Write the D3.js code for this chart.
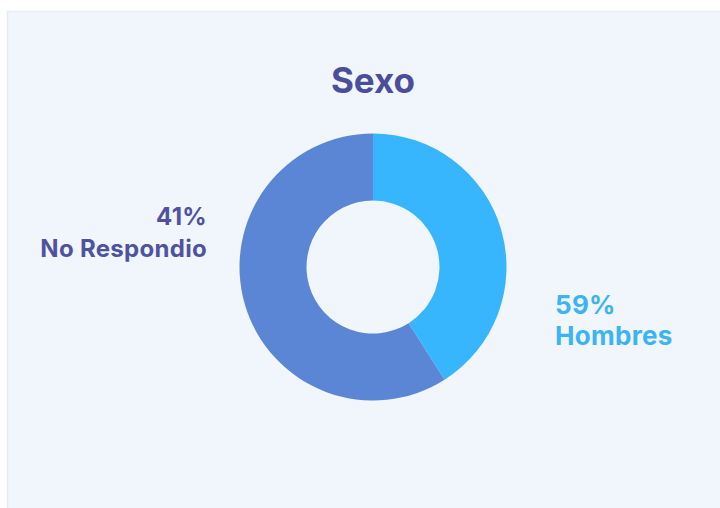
<!DOCTYPE html>
<html>
<head>
<meta charset="utf-8">
<script src="https://cdn.jsdelivr.net/npm/d3@7/dist/d3.min.js"></script>
<style>
  html, body { margin: 0; padding: 0; background: #ffffff; }
  svg { display: block; }
  text { font-family: Inter, "Noto Sans", sans-serif; font-weight: 700; }
</style>
</head>
<body>
<div id="chart"></div>
<script>
// Data
const title = "Sexo";
const categories = ["Hombres", "No Respondio"];
const sliceValues = [41, 59];          // slice sizes as drawn
const labelPercents = ["59%", "41%"];  // label texts as printed
const colors = ["#38b6fd", "#5b86d6"];
const labelColors = ["#3cb4f4", "#4f539f"];

const W = 720, H = 508;
const svg = d3.select("#chart").append("svg").attr("width", W).attr("height", H);

// panel
svg.append("rect").attr("x", 7).attr("y", 11).attr("width", W - 7).attr("height", H - 11)
  .attr("fill", "#f1f5fc");
svg.append("line").attr("x1", 7.5).attr("x2", 7.5).attr("y1", 11).attr("y2", H)
  .attr("stroke", "#e6e9ef").attr("stroke-width", 1.5);
svg.append("line").attr("x1", 7).attr("x2", W).attr("y1", 11.5).attr("y2", 11.5)
  .attr("stroke", "#eceef3").attr("stroke-width", 1.5);

const cx = 373, cy = 267, R = 133.5, r = 66.5;

svg.append("text").attr("x", cx).attr("y", 93).attr("text-anchor", "middle")
  .attr("font-size", 35).attr("fill", "#4b4f9b").text(title);

const pie = d3.pie().sort(null).value(d => d.v).startAngle(0).endAngle(2 * Math.PI);
const arcs = pie(categories.map((c, i) => ({ c, v: sliceValues[i], i })));
const arc = d3.arc().innerRadius(r).outerRadius(R);

const g = svg.append("g").attr("transform", `translate(${cx},${cy})`);
g.selectAll("path").data(arcs).join("path")
  .attr("d", arc).attr("fill", d => colors[d.data.i]);

// labels
const labelPos = [
  { dx: 182, dy: 47, anchor: "start", size: 26, ls: 0.3, gap: 31 },
  { dx: -166, dy: -42, anchor: "end", size: 24, ls: 0.3, gap: 32 }
];
categories.forEach((c, i) => {
  const p = labelPos[i];
  const t = g.append("text").attr("text-anchor", p.anchor)
    .attr("font-size", p.size).attr("letter-spacing", p.ls).attr("fill", labelColors[i]);
  t.append("tspan").attr("x", p.dx).attr("y", p.dy).text(labelPercents[i]);
  t.append("tspan").attr("x", p.dx).attr("y", p.dy + p.gap).text(c);
});
</script>
</body>
</html>
